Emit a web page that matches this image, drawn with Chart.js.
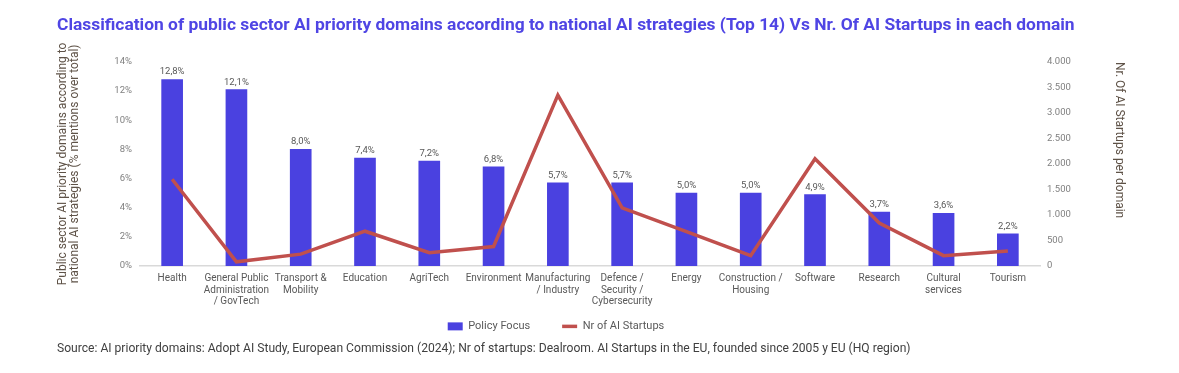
<!DOCTYPE html>
<html>
<head>
<meta charset="utf-8">
<script src="https://cdn.jsdelivr.net/npm/chart.js@4.4.1/dist/chart.umd.min.js"></script>
<style>
    html, body { margin: 0; padding: 0; background: #fff; }
</style>
</head>
<body>
<canvas id="canvasDomaines" width="1179" height="373"></canvas>
<script>
// les domaines (libellés sur plusieurs lignes comme dans le rapport)
const domaines = [
    "Health",
    ["General Public", "Administration", "/ GovTech"],
    ["Transport &", "Mobility"],
    "Education",
    "AgriTech",
    "Environment",
    ["Manufacturing", "/ Industry"],
    ["Defence /", "Security /", "Cybersecurity"],
    "Energy",
    ["Construction /", "Housing"],
    "Software",
    "Research",
    ["Cultural", "services"],
    "Tourism"
]

// % de mentions dans les stratégies nationales
const policyFocus = [12.8, 12.1, 8.0, 7.4, 7.2, 6.8, 5.7, 5.7, 5.0, 5.0, 4.9, 3.7, 3.6, 2.2]

// nombre de startups IA par domaine
const nbStartups = [1700, 80, 230, 680, 260, 380, 3350, 1140, 670, 200, 2100, 840, 200, 290]

const titreGraphique = "Classification of public sector AI priority domains according to national AI strategies (Top 14) Vs Nr. Of AI Startups in each domain"
const titreAxeGauche = ["Public sector AI priority domains according to", "national AI strategies (% mentions over total)"]
const titreAxeDroit = "Nr. Of AI Startups per domain"
const texteSource = "Source: AI priority domains: Adopt AI Study, European Commission (2024); Nr of startups: Dealroom. AI Startups in the EU, founded since 2005 y EU (HQ region)"

const couleurBarres = "#4a41e0"
const couleurLigne = "#c0504d"
const couleurTitreAxes = "#5e5247"

Chart.defaults.font.family = "Roboto"

function formatMilliers(valeur) {
    return valeur.toString().replace(/\B(?=(\d{3})+(?!\d))/g, ".")
}

// les valeurs au dessus des barres
const etiquettesBarres = {
    id: "etiquettesBarres",
    afterDatasetsDraw(chart) {
        let ctx = chart.ctx
        let meta = chart.getDatasetMeta(0)
        ctx.save()
        ctx.font = "9.5px Roboto"
        ctx.fillStyle = "#595959"
        ctx.textAlign = "center"
        ctx.textBaseline = "alphabetic"
        meta.data.forEach((barre, i) => {
            ctx.fillText(policyFocus[i].toFixed(1).replace(".", ",") + "%", barre.x, barre.y - 5)
        })
        ctx.restore()
    }
}

// la légende est un peu décalée à gauche dans le rapport, et plus espacée
// (on ne touche pas au bas sinon le clip de la légende cache les items)
const decalageLegende = {
    id: "decalageLegende",
    afterLayout(chart) {
        let legende = chart.legend
        legende.left -= 35
        legende.right -= 35
        legende.top -= 22
    }
}

let canvas = document.getElementById("canvasDomaines")
new Chart(canvas, {
    data: {
        labels: domaines,
        datasets: [
            {
                type: "bar",
                label: "Policy Focus",
                yAxisID: "y",
                backgroundColor: couleurBarres,
                borderWidth: 0,
                barThickness: 21,
                order: 2,
                data: policyFocus
            },
            {
                type: "line",
                label: "Nr of AI Startups",
                yAxisID: "y1",
                borderColor: couleurLigne,
                backgroundColor: couleurLigne,
                borderWidth: 3.5,
                pointRadius: 0,
                tension: 0,
                order: 1,
                data: nbStartups
            }
        ]
    },
    options: {
        responsive: false,
        animation: false,
        layout: {
            padding: { left: 57, right: 54, top: 0, bottom: 16.6 }
        },
        plugins: {
            title: {
                display: true,
                text: titreGraphique,
                align: "start",
                color: "#4f45e4",
                font: { size: 17.4, weight: "bold", lineHeight: 1.2 },
                padding: { top: 15.6, bottom: 25.5 }
            },
            subtitle: {
                display: true,
                position: "bottom",
                text: texteSource,
                align: "start",
                color: "#404040",
                font: { size: 12.1, lineHeight: 1.2 },
                padding: { top: 0, bottom: 0 }
            },
            legend: {
                position: "bottom",
                maxHeight: 31,
                labels: {
                    usePointStyle: true,
                    pointStyleWidth: 15,
                    boxHeight: 8,
                    padding: 32,
                    color: "#595959",
                    font: { size: 11 },
                    generateLabels(chart) {
                        let items = Chart.defaults.plugins.legend.labels.generateLabels(chart)
                        items.sort((a, b) => a.datasetIndex - b.datasetIndex)
                        items.forEach(item => {
                            if (item.datasetIndex === 0) {
                                item.pointStyle = "rect"
                                item.lineWidth = 0
                            } else {
                                item.pointStyle = "line"
                                item.strokeStyle = couleurLigne
                                item.lineWidth = 3.5
                            }
                        })
                        return items
                    }
                }
            },
            tooltip: { enabled: false }
        },
        scales: {
            x: {
                grid: { display: false, drawTicks: false },
                border: { display: true, color: "#d9d9d9", width: 1.5 },
                ticks: {
                    color: "#595959",
                    font: { size: 10, lineHeight: 1.15 },
                    padding: 7,
                    maxRotation: 0,
                    autoSkip: false
                },
                afterFit: (scale) => { scale.height = 45 }
            },
            y: {
                position: "left",
                min: 0,
                max: 14,
                grid: { display: false, drawTicks: false },
                border: { display: false },
                ticks: {
                    stepSize: 2,
                    color: "#808080",
                    font: { size: 9.5 },
                    padding: 8,
                    callback: (v) => v + "%"
                },
                title: {
                    display: true,
                    text: titreAxeGauche,
                    color: couleurTitreAxes,
                    font: { size: 12, lineHeight: 1.0 },
                    padding: 0
                },
                afterFit: (scale) => { scale.width = 83 }
            },
            y1: {
                position: "right",
                min: 0,
                max: 4000,
                grid: { display: false, drawTicks: false },
                border: { display: false },
                ticks: {
                    stepSize: 500,
                    color: "#808080",
                    font: { size: 9.5 },
                    padding: 7,
                    callback: (v) => formatMilliers(v)
                },
                title: {
                    display: true,
                    text: titreAxeDroit,
                    align: "end",
                    color: couleurTitreAxes,
                    font: { size: 12, lineHeight: 1.0 },
                    padding: 0
                },
                afterFit: (scale) => { scale.width = 85 }
            }
        }
    },
    plugins: [etiquettesBarres, decalageLegende]
})
</script>
</body>
</html>
